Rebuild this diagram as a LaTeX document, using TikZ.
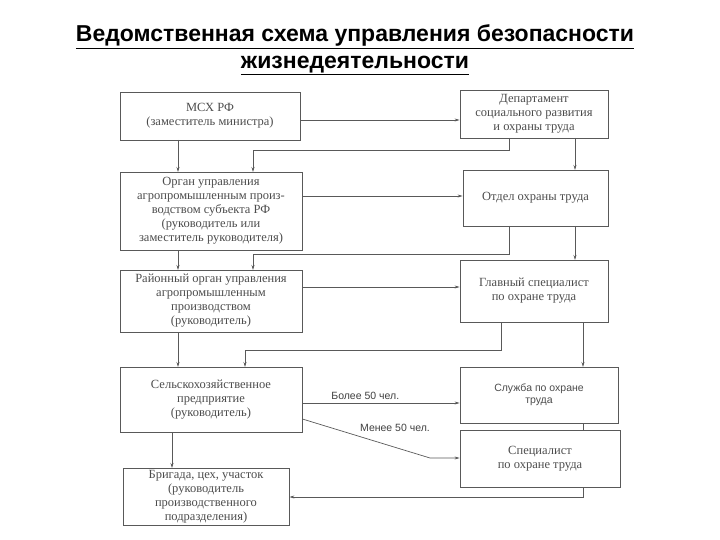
\documentclass[tikz,border=0pt]{standalone}
\usepackage{fontspec}
\setmainfont{Liberation Serif}
\newfontfamily\sansf{Liberation Sans}
\usetikzlibrary{arrows.meta}
\begin{document}
\begin{tikzpicture}[x=1pt,y=-1pt,
  box/.style={draw=black!65,line width=0.8pt,inner sep=0pt,text=black!70,align=center,font=\fontsize{12.5}{14}\selectfont},
  arr/.style={draw=black!65,line width=0.7pt,-{Stealth[length=5pt,width=3pt]}},
  lab/.style={font=\sansf\fontsize{10.5}{12}\selectfont,text=black!75}]
\useasboundingbox (0,0) rectangle (720,540);
\node[font=\sansf\bfseries\fontsize{23}{27}\selectfont,align=center] (title) at (355,50) {\underline{Ведомственная схема управления безопасности}\\\underline{жизнедеятельности}};
\node[box,minimum width=180,minimum height=48] (msx) at (210,116) {МСХ РФ\\(заместитель министра)};
\node[box,minimum width=148,minimum height=48] (dep) at (534,114) {Департамент\\социального развития\\и охраны труда};
\node[box,minimum width=182,minimum height=78] (org) at (211,211) {Орган управления\\агропромышленным произ-\\водством субъекта РФ\\(руководитель или\\заместитель руководителя)};
\node[box,minimum width=145,minimum height=56] (otd) at (535.5,198) {Отдел охраны труда};
\node[box,minimum width=182,minimum height=62] (ray) at (211,301) {Районный орган управления\\агропромышленным\\производством\\(руководитель)};
\node[box,minimum width=148,minimum height=62] (glav) at (534,291) {Главный специалист\\по охране труда};
\node[box,minimum width=182,minimum height=65] (sel) at (211,399.5) {Сельскохозяйственное\\предприятие\\(руководитель)};
\node[box,minimum width=158,minimum height=56,font=\sansf\fontsize{10.5}{12}\selectfont] (slu) at (539,395) {Служба по охране\\труда};
\node[box,minimum width=160,minimum height=57] (spec) at (540,458.5) {Специалист\\по охране труда};
\node[box,minimum width=166,minimum height=57] (brig) at (206,496.5) {Бригада, цех, участок\\(руководитель\\производственного\\подразделения)};
\coordinate (d1) at (509,150); \coordinate (d2) at (253,150);
\coordinate (o1) at (509,254); \coordinate (o2) at (253,254);
\coordinate (g1) at (501,350); \coordinate (g2) at (245,350);
\coordinate (bend) at (430,458);
\coordinate (s1) at (583,497);
\draw[arr] (msx.east |- 0,120) -- (dep.west |- 0,120);
\draw[arr] (178,140) -- (178,172);
\draw[arr] (509,138) -- (d1) -- (d2) -- (253,172);
\draw[arr] (575,138) -- (575,170);
\draw[arr] (org.east |- 0,196) -- (otd.west |- 0,196);
\draw[arr] (178,250) -- (178,270);
\draw[arr] (509,226) -- (o1) -- (o2) -- (253,270);
\draw[arr] (575,226) -- (575,260);
\draw[arr] (ray.east |- 0,287) -- (glav.west |- 0,287);
\draw[arr] (178,332) -- (178,367);
\draw[arr] (501,322) -- (g1) -- (g2) -- (245,367);
\draw[arr] (583,322) -- (583,367);
\draw[arr] (sel.east |- 0,403) -- node[lab,above,pos=0.4]{Более 50 чел.} (slu.west |- 0,403);
\draw[arr] (sel.east |- 0,419) -- (bend) -- (spec.west |- 0,458);
\node[lab] (lt) at (395,428) {Менее 50 чел.};
\draw[draw=black!65,line width=0.7pt] (583,423) -- (583,430);
\draw[arr] (583,487) -- (s1) -- (brig.east |- 0,497);
\draw[arr] (172,432) -- (172,468);
\end{tikzpicture}
\end{document}
